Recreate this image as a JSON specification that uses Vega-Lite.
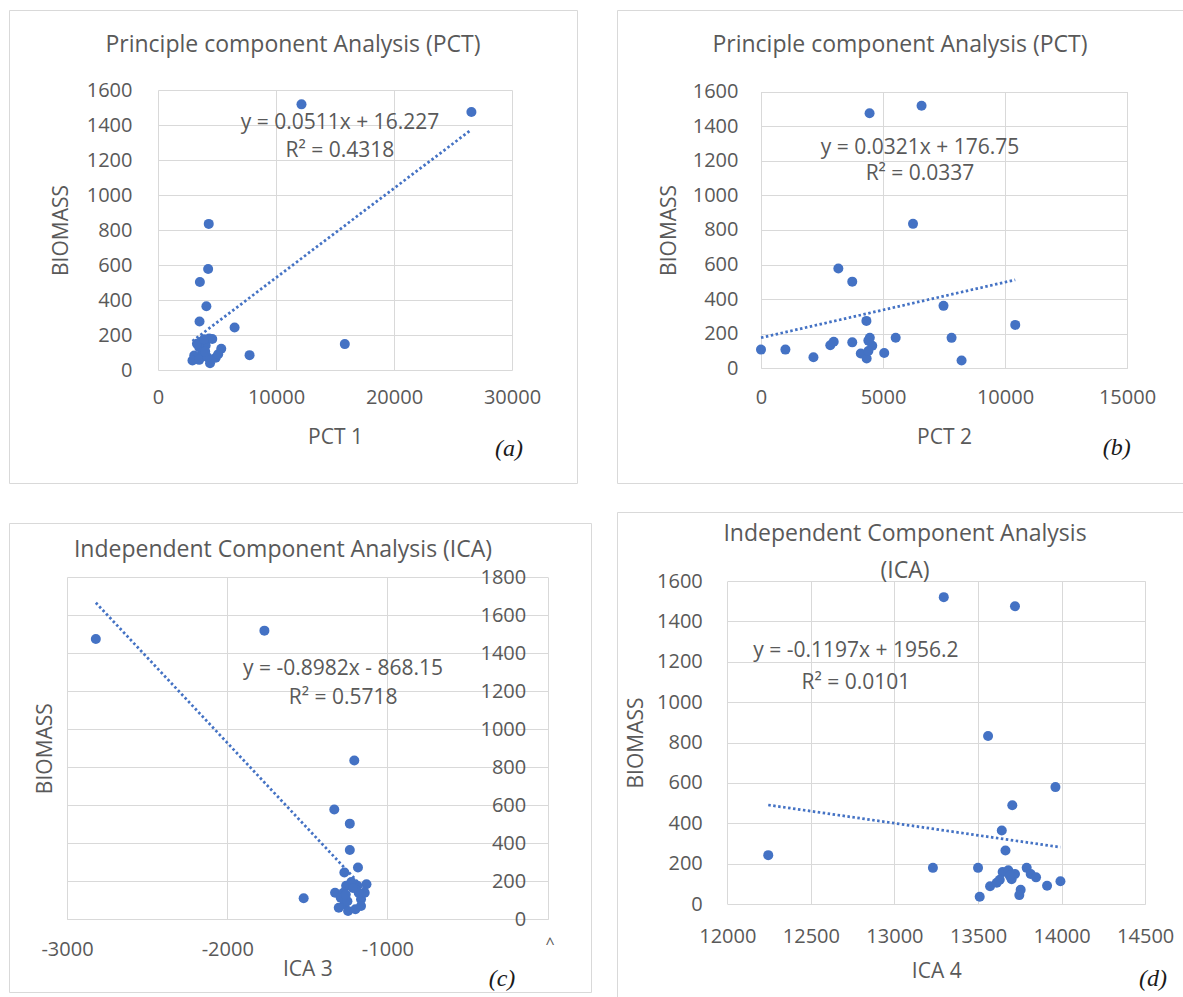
{
  "$schema": "https://vega.github.io/schema/vega-lite/v6.json",
  "background": "white",
  "padding": {"left": 8, "top": 9, "right": 0, "bottom": 0},
  "datasets": {
    "pct1": [
      {"PCT1": 12160, "BIOMASS": 1518}, {"PCT1": 26560, "BIOMASS": 1474}, {"PCT1": 4300, "BIOMASS": 835},
      {"PCT1": 4250, "BIOMASS": 577}, {"PCT1": 3550, "BIOMASS": 503}, {"PCT1": 4100, "BIOMASS": 364},
      {"PCT1": 3520, "BIOMASS": 277}, {"PCT1": 6490, "BIOMASS": 243}, {"PCT1": 15830, "BIOMASS": 148},
      {"PCT1": 7760, "BIOMASS": 85}, {"PCT1": 4330, "BIOMASS": 180}, {"PCT1": 3630, "BIOMASS": 160},
      {"PCT1": 4040, "BIOMASS": 140}, {"PCT1": 3490, "BIOMASS": 130}, {"PCT1": 3770, "BIOMASS": 102},
      {"PCT1": 3070, "BIOMASS": 83}, {"PCT1": 2920, "BIOMASS": 54}, {"PCT1": 3490, "BIOMASS": 58},
      {"PCT1": 4410, "BIOMASS": 39}, {"PCT1": 4890, "BIOMASS": 70}, {"PCT1": 5360, "BIOMASS": 121},
      {"PCT1": 4190, "BIOMASS": 73}, {"PCT1": 4600, "BIOMASS": 177}, {"PCT1": 3300, "BIOMASS": 150},
      {"PCT1": 5100, "BIOMASS": 90}, {"PCT1": 3900, "BIOMASS": 176}, {"PCT1": 4000, "BIOMASS": 105}
    ],
    "trend_pct1": [{"PCT1": 2920, "BIOMASS": 165.44}, {"PCT1": 26560, "BIOMASS": 1373.44}],
    "pct2": [
      {"PCT2": 0, "BIOMASS": 108}, {"PCT2": 1000, "BIOMASS": 108}, {"PCT2": 2150, "BIOMASS": 64},
      {"PCT2": 2840, "BIOMASS": 133}, {"PCT2": 2980, "BIOMASS": 153}, {"PCT2": 3170, "BIOMASS": 577},
      {"PCT2": 3740, "BIOMASS": 501}, {"PCT2": 3740, "BIOMASS": 150}, {"PCT2": 4090, "BIOMASS": 86},
      {"PCT2": 4330, "BIOMASS": 57}, {"PCT2": 4320, "BIOMASS": 274}, {"PCT2": 4460, "BIOMASS": 177},
      {"PCT2": 4560, "BIOMASS": 130}, {"PCT2": 4400, "BIOMASS": 100}, {"PCT2": 5050, "BIOMASS": 88},
      {"PCT2": 5520, "BIOMASS": 177}, {"PCT2": 6230, "BIOMASS": 835}, {"PCT2": 6580, "BIOMASS": 1518},
      {"PCT2": 4450, "BIOMASS": 1474}, {"PCT2": 7480, "BIOMASS": 361}, {"PCT2": 7810, "BIOMASS": 176},
      {"PCT2": 8220, "BIOMASS": 45}, {"PCT2": 10420, "BIOMASS": 251}, {"PCT2": 4400, "BIOMASS": 160}
    ],
    "trend_pct2": [{"PCT2": 0, "BIOMASS": 176.75}, {"PCT2": 10420, "BIOMASS": 511.23}],
    "ica3": [
      {"ICA3": -2820, "BIOMASS": 1474}, {"ICA3": -1768, "BIOMASS": 1518}, {"ICA3": -1207, "BIOMASS": 835},
      {"ICA3": -1332, "BIOMASS": 577}, {"ICA3": -1235, "BIOMASS": 503}, {"ICA3": -1235, "BIOMASS": 364},
      {"ICA3": -1184, "BIOMASS": 272}, {"ICA3": -1269, "BIOMASS": 246}, {"ICA3": -1523, "BIOMASS": 111},
      {"ICA3": -1327, "BIOMASS": 140}, {"ICA3": -1269, "BIOMASS": 79}, {"ICA3": -1304, "BIOMASS": 61},
      {"ICA3": -1246, "BIOMASS": 44}, {"ICA3": -1200, "BIOMASS": 53}, {"ICA3": -1165, "BIOMASS": 105},
      {"ICA3": -1131, "BIOMASS": 184}, {"ICA3": -1188, "BIOMASS": 176}, {"ICA3": -1258, "BIOMASS": 176},
      {"ICA3": -1292, "BIOMASS": 114}, {"ICA3": -1142, "BIOMASS": 140}, {"ICA3": -1225, "BIOMASS": 196},
      {"ICA3": -1165, "BIOMASS": 70}, {"ICA3": -1250, "BIOMASS": 95}, {"ICA3": -1180, "BIOMASS": 140},
      {"ICA3": -1215, "BIOMASS": 165}, {"ICA3": -1275, "BIOMASS": 140}, {"ICA3": -1260, "BIOMASS": 130}
    ],
    "trend_ica3": [{"ICA3": -2820, "BIOMASS": 1664.77}, {"ICA3": -1131, "BIOMASS": 147.71}],
    "ica4": [
      {"ICA4": 13295, "BIOMASS": 1520}, {"ICA4": 13721, "BIOMASS": 1475}, {"ICA4": 13560, "BIOMASS": 832},
      {"ICA4": 13963, "BIOMASS": 579}, {"ICA4": 13705, "BIOMASS": 489}, {"ICA4": 13642, "BIOMASS": 364},
      {"ICA4": 13664, "BIOMASS": 265}, {"ICA4": 12245, "BIOMASS": 242}, {"ICA4": 13230, "BIOMASS": 179},
      {"ICA4": 13500, "BIOMASS": 179}, {"ICA4": 13510, "BIOMASS": 36}, {"ICA4": 13993, "BIOMASS": 113},
      {"ICA4": 13913, "BIOMASS": 90}, {"ICA4": 13572, "BIOMASS": 88}, {"ICA4": 13612, "BIOMASS": 105},
      {"ICA4": 13647, "BIOMASS": 158}, {"ICA4": 13681, "BIOMASS": 167}, {"ICA4": 13701, "BIOMASS": 123},
      {"ICA4": 13721, "BIOMASS": 149}, {"ICA4": 13755, "BIOMASS": 70}, {"ICA4": 13747, "BIOMASS": 44},
      {"ICA4": 13791, "BIOMASS": 179}, {"ICA4": 13815, "BIOMASS": 149}, {"ICA4": 13847, "BIOMASS": 132},
      {"ICA4": 13630, "BIOMASS": 120}, {"ICA4": 13690, "BIOMASS": 140}
    ],
    "trend_ica4": [{"ICA4": 12245, "BIOMASS": 490.47}, {"ICA4": 13993, "BIOMASS": 281.24}]
  },
  "spacing": 24,
  "hconcat": [
    {
      "spacing": 38,
      "vconcat": [
        {
          "width": 568,
          "height": 473,
          "title": {"text": "Principle component Analysis (PCT)", "offset": -47},
          "layer": [
            {
              "data": {"name": "pct1"},
              "mark": {"type": "circle", "size": 100, "color": "#4472C4", "opacity": 1},
              "encoding": {
                "x": {"field": "PCT1", "type": "quantitative",
                  "scale": {"domain": [0, 30000], "range": [149, 503], "nice": false, "zero": false},
                  "axis": {"orient": "top", "offset": -360, "values": [0, 10000, 20000, 30000], "labelPadding": -27, "labelBaseline": "middle", "labelExpr": "'' + datum.value", "title": "PCT 1", "titleY": 67, "titleBaseline": "middle"}},
                "y": {"field": "BIOMASS", "type": "quantitative",
                  "scale": {"domain": [0, 1600], "range": [360, 80], "nice": false, "zero": false},
                  "axis": {"orient": "left", "offset": -149, "values": [0, 200, 400, 600, 800, 1000, 1200, 1400, 1600], "labelPadding": 26, "labelExpr": "'' + datum.value", "title": "BIOMASS", "titleX": -97, "titleBaseline": "middle"}}
              }
            },
            {
              "data": {"name": "trend_pct1"},
              "mark": {"type": "line", "color": "#4472C4", "strokeWidth": 2.75, "strokeDash": [2.5, 2.5]},
              "encoding": {
                "x": {"field": "PCT1", "type": "quantitative", "scale": {"domain": [0, 30000], "range": [149, 503], "nice": false, "zero": false}},
                "y": {"field": "BIOMASS", "type": "quantitative", "scale": {"domain": [0, 1600], "range": [360, 80], "nice": false, "zero": false}}
              }
            },
            {
              "data": {"values": [{}]},
              "mark": {"type": "text", "text": "y = 0.0511x + 16.227", "align": "center", "baseline": "middle"},
              "encoding": {
                "x": {"datum": 15420, "type": "quantitative"},
                "y": {"datum": 1411, "type": "quantitative"}
              }
            },
            {
              "data": {"values": [{}]},
              "mark": {"type": "text", "text": "R² = 0.4318", "align": "center", "baseline": "middle"},
              "encoding": {
                "x": {"datum": 15420, "type": "quantitative"},
                "y": {"datum": 1251, "type": "quantitative"}
              }
            },
            {
              "data": {"values": [{}]},
              "mark": {"type": "text", "text": "(a)", "align": "center", "baseline": "middle", "font": "Liberation Serif", "fontStyle": "italic", "fontSize": 24, "color": "#1a1a1a"},
              "encoding": {
                "x": {"datum": 29750, "type": "quantitative"},
                "y": {"datum": -451, "type": "quantitative"}
              }
            }
          ]
        },
        {
          "width": 582,
          "height": 469,
          "title": {"text": "Independent Component Analysis (ICA)", "offset": -39, "dx": -17},
          "layer": [
            {
              "data": {"name": "ica3"},
              "mark": {"type": "circle", "size": 100, "color": "#4472C4", "opacity": 1},
              "encoding": {
                "x": {"field": "ICA3", "type": "quantitative",
                  "scale": {"domain": [-3000, 0], "range": [58, 538.7], "nice": false, "zero": false},
                  "axis": {"orient": "top", "offset": -396.3, "values": [-3000, -2000, -1000, 0], "labelPadding": -30, "labelBaseline": "middle", "labelExpr": "datum.value === 0 ? '' : '' + datum.value", "title": "ICA 3", "titleY": 50, "titleBaseline": "middle"}},
                "y": {"field": "BIOMASS", "type": "quantitative",
                  "scale": {"domain": [0, 1800], "range": [396.3, 54], "nice": false, "zero": false},
                  "axis": {"orient": "left", "offset": -538.7, "values": [0, 200, 400, 600, 800, 1000, 1200, 1400, 1600, 1800], "labelPadding": 22, "labelExpr": "'' + datum.value", "title": "BIOMASS", "titleX": -502, "titleBaseline": "middle"}}
              }
            },
            {
              "data": {"name": "trend_ica3"},
              "mark": {"type": "line", "color": "#4472C4", "strokeWidth": 2.75, "strokeDash": [2.5, 2.5]},
              "encoding": {
                "x": {"field": "ICA3", "type": "quantitative", "scale": {"domain": [-3000, 0], "range": [58, 538.7], "nice": false, "zero": false}},
                "y": {"field": "BIOMASS", "type": "quantitative", "scale": {"domain": [0, 1800], "range": [396.3, 54], "nice": false, "zero": false}}
              }
            },
            {
              "data": {"values": [{}]},
              "mark": {"type": "text", "text": "y = -0.8982x - 868.15", "align": "center", "baseline": "middle"},
              "encoding": {
                "x": {"datum": -1277, "type": "quantitative"},
                "y": {"datum": 1315, "type": "quantitative"}
              }
            },
            {
              "data": {"values": [{}]},
              "mark": {"type": "text", "text": "R² = 0.5718", "align": "center", "baseline": "middle"},
              "encoding": {
                "x": {"datum": -1277, "type": "quantitative"},
                "y": {"datum": 1165, "type": "quantitative"}
              }
            },
            {
              "data": {"values": [{}]},
              "mark": {"type": "text", "text": "^", "align": "center", "baseline": "middle", "fontSize": 16},
              "encoding": {
                "x": {"datum": 15, "type": "quantitative"},
                "y": {"datum": -130, "type": "quantitative"}
              }
            },
            {
              "data": {"values": [{}]},
              "mark": {"type": "text", "text": "(c)", "align": "center", "baseline": "middle", "font": "Liberation Serif", "fontStyle": "italic", "fontSize": 24, "color": "#1a1a1a"},
              "encoding": {
                "x": {"datum": -285, "type": "quantitative"},
                "y": {"datum": -314, "type": "quantitative"}
              }
            }
          ]
        }
      ]
    },
    {
      "spacing": 27,
      "vconcat": [
        {
          "width": 566,
          "height": 473,
          "title": {"text": "Principle component Analysis (PCT)", "offset": -47},
          "layer": [
            {
              "data": {"name": "pct2"},
              "mark": {"type": "circle", "size": 100, "color": "#4472C4", "opacity": 1},
              "encoding": {
                "x": {"field": "PCT2", "type": "quantitative",
                  "scale": {"domain": [0, 15000], "range": [144, 510], "nice": false, "zero": false},
                  "axis": {"orient": "top", "offset": -358.3, "values": [0, 5000, 10000, 15000], "labelPadding": -29, "labelBaseline": "middle", "labelExpr": "'' + datum.value", "title": "PCT 2", "titleY": 69, "titleBaseline": "middle"}},
                "y": {"field": "BIOMASS", "type": "quantitative",
                  "scale": {"domain": [0, 1600], "range": [358.3, 81.5], "nice": false, "zero": false},
                  "axis": {"orient": "left", "offset": -144, "values": [0, 200, 400, 600, 800, 1000, 1200, 1400, 1600], "labelPadding": 23, "labelExpr": "'' + datum.value", "title": "BIOMASS", "titleX": -92, "titleBaseline": "middle"}}
              }
            },
            {
              "data": {"name": "trend_pct2"},
              "mark": {"type": "line", "color": "#4472C4", "strokeWidth": 2.75, "strokeDash": [2.5, 2.5]},
              "encoding": {
                "x": {"field": "PCT2", "type": "quantitative", "scale": {"domain": [0, 15000], "range": [144, 510], "nice": false, "zero": false}},
                "y": {"field": "BIOMASS", "type": "quantitative", "scale": {"domain": [0, 1600], "range": [358.3, 81.5], "nice": false, "zero": false}}
              }
            },
            {
              "data": {"values": [{}]},
              "mark": {"type": "text", "text": "y = 0.0321x + 176.75", "align": "center", "baseline": "middle"},
              "encoding": {
                "x": {"datum": 6516, "type": "quantitative"},
                "y": {"datum": 1275, "type": "quantitative"}
              }
            },
            {
              "data": {"values": [{}]},
              "mark": {"type": "text", "text": "R² = 0.0337", "align": "center", "baseline": "middle"},
              "encoding": {
                "x": {"datum": 6516, "type": "quantitative"},
                "y": {"datum": 1121, "type": "quantitative"}
              }
            },
            {
              "data": {"values": [{}]},
              "mark": {"type": "text", "text": "(b)", "align": "center", "baseline": "middle", "font": "Liberation Serif", "fontStyle": "italic", "fontSize": 24, "color": "#1a1a1a"},
              "encoding": {
                "x": {"datum": 14580, "type": "quantitative"},
                "y": {"datum": -459, "type": "quantitative"}
              }
            }
          ]
        },
        {
          "width": 576,
          "height": 501,
          "title": {"text": ["Independent Component Analysis", "(ICA)"], "offset": -71, "lineHeight": 37},
          "layer": [
            {
              "data": {"name": "ica4"},
              "mark": {"type": "circle", "size": 100, "color": "#4472C4", "opacity": 1},
              "encoding": {
                "x": {"field": "ICA4", "type": "quantitative",
                  "scale": {"domain": [12000, 14500], "range": [110.3, 528.2], "nice": false, "zero": false},
                  "axis": {"orient": "top", "offset": -392, "values": [12000, 12500, 13000, 13500, 14000, 14500], "labelPadding": -32, "labelBaseline": "middle", "labelExpr": "'' + datum.value", "title": "ICA 4", "titleY": 67, "titleBaseline": "middle"}},
                "y": {"field": "BIOMASS", "type": "quantitative",
                  "scale": {"domain": [0, 1600], "range": [392, 69], "nice": false, "zero": false},
                  "axis": {"orient": "left", "offset": -110.3, "values": [0, 200, 400, 600, 800, 1000, 1200, 1400, 1600], "labelPadding": 25, "labelExpr": "'' + datum.value", "title": "BIOMASS", "titleX": -91, "titleBaseline": "middle"}}
              }
            },
            {
              "data": {"name": "trend_ica4"},
              "mark": {"type": "line", "color": "#4472C4", "strokeWidth": 2.75, "strokeDash": [2.5, 2.5]},
              "encoding": {
                "x": {"field": "ICA4", "type": "quantitative", "scale": {"domain": [12000, 14500], "range": [110.3, 528.2], "nice": false, "zero": false}},
                "y": {"field": "BIOMASS", "type": "quantitative", "scale": {"domain": [0, 1600], "range": [392, 69], "nice": false, "zero": false}}
              }
            },
            {
              "data": {"values": [{}]},
              "mark": {"type": "text", "text": "y = -0.1197x + 1956.2", "align": "center", "baseline": "middle"},
              "encoding": {
                "x": {"datum": 12769, "type": "quantitative"},
                "y": {"datum": 1251, "type": "quantitative"}
              }
            },
            {
              "data": {"values": [{}]},
              "mark": {"type": "text", "text": "R² = 0.0101", "align": "center", "baseline": "middle"},
              "encoding": {
                "x": {"datum": 12769, "type": "quantitative"},
                "y": {"datum": 1094, "type": "quantitative"}
              }
            },
            {
              "data": {"values": [{}]},
              "mark": {"type": "text", "text": "(d)", "align": "center", "baseline": "middle", "font": "Liberation Serif", "fontStyle": "italic", "fontSize": 24, "color": "#1a1a1a"},
              "encoding": {
                "x": {"datum": 14547, "type": "quantitative"},
                "y": {"datum": -372, "type": "quantitative"}
              }
            }
          ]
        }
      ]
    }
  ],
  "config": {
    "view": {"stroke": "#d9d9d9", "strokeWidth": 1},
    "font": "Open Sans",
    "axis": {
      "domain": false, "ticks": false, "tickSize": 0, "grid": true,
      "gridColor": "#d9d9d9", "gridWidth": 1,
      "labelFont": "Open Sans", "labelFontSize": 20, "labelColor": "#595959",
      "labelOverlap": false, "labelFlush": false, "labelBound": false,
      "titleFont": "Open Sans", "titleFontSize": 21, "titleFontWeight": "normal", "titleColor": "#595959"
    },
    "title": {"font": "Open Sans", "fontSize": 23, "fontWeight": "normal", "color": "#595959", "anchor": "middle", "baseline": "middle", "frame": "group"},
    "text": {"font": "Open Sans", "fontSize": 21, "color": "#595959"}
  }
}
